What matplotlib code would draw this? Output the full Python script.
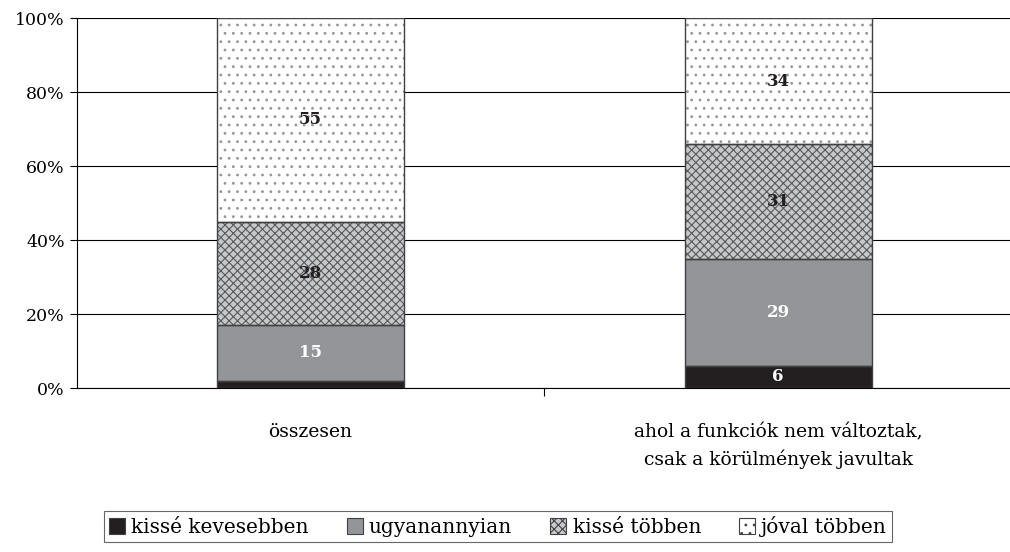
import numpy as np
import matplotlib.pyplot as plt

plt.rcParams['font.family'] = ['DejaVu Serif']
plt.rcParams['hatch.linewidth'] = 0.8

categories = ['összesen', 'ahol a funkciók nem változtak,\ncsak a körülmények javultak']
series_names = ['kissé kevesebben', 'ugyanannyian', 'kissé többen', 'jóval többen']
kisse_kevesebben = [2, 6]
ugyanannyian = [15, 29]
kisse_tobben = [28, 31]
joval_tobben = [55, 34]
yticks = [0, 20, 40, 60, 80, 100]

series = [kisse_kevesebben, ugyanannyian, kisse_tobben, joval_tobben]
faces = ['#231f20', '#939598', '#c7c8ca', 'white']
hatches = [None, None, 'xxxx', '..']
hatch_cols = ['#231f20', '#939598', '#58595b', '#939598']
label_cols = ['white', 'white', '#231f20', '#231f20']

fig = plt.figure(figsize=(10.1, 5.52), dpi=100)
ax = fig.add_axes([0.076, 0.297, 0.926, 0.67])

x = np.arange(len(categories))
w = 0.4
bottom = np.zeros(len(categories))
handles = []
for vals, fc, h, hc, lc, name in zip(series, faces, hatches, hatch_cols, label_cols, series_names):
    vals = np.array(vals, dtype=float)
    ax.bar(x, vals, w, bottom=bottom, color=fc, hatch=h, edgecolor=hc, linewidth=0, zorder=3)
    ax.bar(x, vals, w, bottom=bottom, fill=False, edgecolor='#414042', linewidth=1.0, zorder=4)
    handles.append(plt.Rectangle((0, 0), 1, 1, facecolor=fc, hatch=h, edgecolor='#414042', linewidth=0.8))
    for xi, v, b0 in zip(x, vals, bottom):
        if v >= 5:
            ax.text(xi, b0 + v / 2, f'{v:.0f}', ha='center', va='center', color=lc,
                    fontsize=12, fontweight='bold', zorder=5)
    bottom += vals

ax.set_xlim(-0.5, 1.5)
ax.set_ylim(0, 100)
ax.set_yticks(yticks)
ax.set_yticklabels([f'{t}%' for t in yticks], fontsize=12.5)
ax.yaxis.grid(True, color='black', linewidth=0.8, zorder=0)
ax.set_axisbelow(True)
ax.set_xticks([0.5])
ax.set_xticklabels([''])
ax.tick_params(axis='x', length=6, color='black', width=0.8)
ax.tick_params(axis='y', length=5, color='black', width=0.8)
for s in ['top', 'right']:
    ax.spines[s].set_visible(False)
for s in ['left', 'bottom']:
    ax.spines[s].set_color('black')
    ax.spines[s].set_linewidth(0.8)
for xi, c in zip(x, categories):
    ax.text(xi, -9.5, c, ha='center', va='top', fontsize=13.5, transform=ax.transData,
            linespacing=1.55)

leg = fig.legend(handles, series_names, loc='lower center', bbox_to_anchor=(0.493, 0.0), ncol=4,
                 fontsize=14.5, frameon=True, fancybox=False, edgecolor='#414042',
                 handlelength=0.8, handleheight=0.8, handletextpad=0.3, columnspacing=1.9,
                 borderpad=0.25)
leg.get_frame().set_linewidth(0.8)

fig.savefig('out.png', dpi=100)
